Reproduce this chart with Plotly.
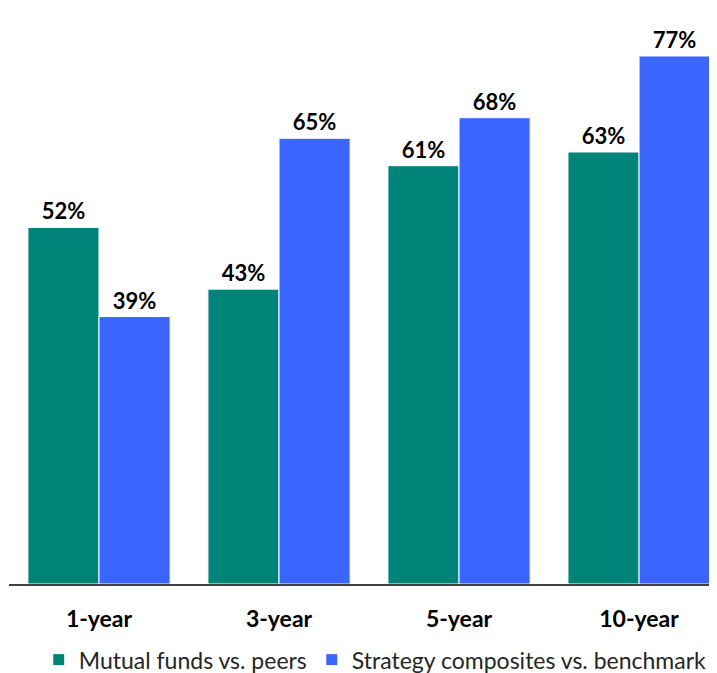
import plotly.graph_objects as go

categories = ["1-year", "3-year", "5-year", "10-year"]
mutual_funds = [52, 43, 61, 63]
strategy_composites = [39, 65, 68, 77]
series_names = ["Mutual funds vs. peers", "Strategy composites vs. benchmark"]

font_family = "Lato, 'Open Sans', sans-serif"

fig = go.Figure()
fig.add_trace(go.Bar(
    x=categories, y=mutual_funds, name=series_names[0],
    marker=dict(color="#00847A", line=dict(color="white", width=1)),
    text=[f"<b>{v}%</b>" for v in mutual_funds], textposition="outside",
    textfont=dict(size=22, color="black", family=font_family),
    cliponaxis=False,
))
fig.add_trace(go.Bar(
    x=categories, y=strategy_composites, name=series_names[1],
    marker=dict(color="#3A66FF", line=dict(color="white", width=1)),
    text=[f"<b>{v}%</b>" for v in strategy_composites], textposition="outside",
    textfont=dict(size=22, color="black", family=font_family),
    cliponaxis=False,
))

fig.update_layout(
    width=709, height=665,
    margin=dict(l=1, r=0, t=27, b=89, autoexpand=False),
    paper_bgcolor="white", plot_bgcolor="white",
    barmode="group", bargap=0.21, bargroupgap=0,
    font=dict(family=font_family, color="black"),
    showlegend=True,
    legend=dict(orientation="h", xref="container", yref="container",
                x=0.518, xanchor="center", y=0.02, yanchor="middle",
                font=dict(size=23, color="#262626"), traceorder="normal"),
    xaxis=dict(range=[-0.5, 3.433], showline=True, linecolor="#404040", linewidth=2,
               ticks="", tickfont=dict(size=23, color="black", family=font_family),
               tickvals=categories, ticktext=[f"<b>{c}</b>" for c in categories],
               ticklabelstandoff=13, showgrid=False, zeroline=False, automargin=False),
    yaxis=dict(range=[0, 80.06], visible=False, showgrid=False, zeroline=False),
)

fig.write_html("out.html")
